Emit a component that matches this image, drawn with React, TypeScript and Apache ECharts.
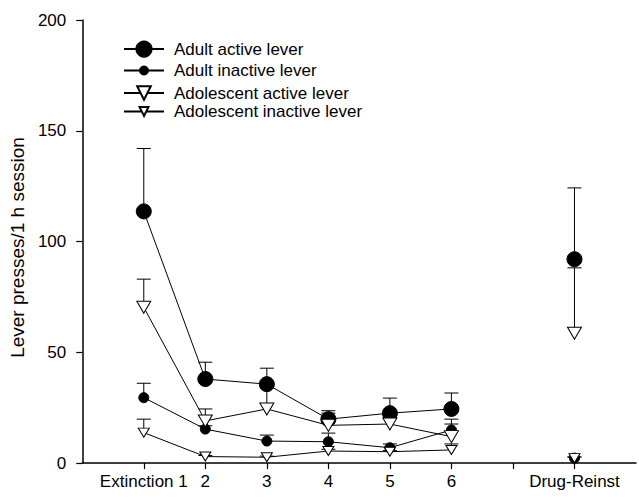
import React, { useEffect, useRef } from "react";
import * as echarts from "echarts";

// x positions: index 0 and 9 are padding, 7 is the gap
const categories = ["", "Extinction 1", "2", "3", "4", "5", "6", "", "Drug-Reinst", ""];
const yTicks = [0, 50, 100, 150, 200];

// values per session: Extinction 1..6, then Drug-Reinst
const adultActive = [113.6, 37.9, 35.6, 19.8, 22.5, 24.4, 92.0];
const adultActiveSem = [28.4, 7.6, 7.2, 3.8, 6.8, 7.2, 32.2];
const adultInactive = [29.5, 15.3, 9.9, 9.6, 6.9, 14.9, 2.2];
const adultInactiveSem = [6.5, 1.5, 2.7, 3.9, 1.7, 4.9, 0.5];
const adolActive = [70.3, 19.0, 24.4, 17.0, 17.6, 11.9, 58.6];
const adolActiveSem = [12.7, 5.4, 9.5, 5.5, 3.0, 5.7, 29.5];
const adolInactive = [13.7, 2.9, 2.6, 5.4, 5.1, 5.9, 2.2];
const adolInactiveSem = [6.1, 0.5, 0.5, 0.8, 0.5, 2.7, 0.5];

const seriesNames = [
  "Adult active lever",
  "Adult inactive lever",
  "Adolescent active lever",
  "Adolescent inactive lever",
];

const xIndex = [1, 2, 3, 4, 5, 6, 8];

function toLineData(vals: number[]) {
  const out: (number | string)[] = categories.map(() => "-");
  vals.forEach((v, i) => {
    out[xIndex[i]] = v;
  });
  return out;
}

function toErrData(vals: number[], sem: number[]) {
  return vals.map((v, i) => [xIndex[i], v, v + sem[i]]);
}

const FONT = "'Liberation Sans', Arial, Helvetica, sans-serif";

export default function App() {
  const ref = useRef<HTMLDivElement>(null);
  useEffect(() => {
    if (!ref.current) return;
    const chart = echarts.init(ref.current, undefined, { renderer: "svg" });

    const errSeries = (vals: number[], sem: number[]) => ({
      type: "custom",
      z: 1,
      silent: true,
      data: toErrData(vals, sem),
      renderItem: (params: any, api: any) => {
        const p0 = api.coord([api.value(0), api.value(1)]);
        const p1 = api.coord([api.value(0), api.value(2)]);
        const hw = 7;
        return {
          type: "group",
          children: [
            {
              type: "line",
              shape: { x1: p0[0], y1: p0[1], x2: p1[0], y2: p1[1] },
              style: { stroke: "#000", lineWidth: 1 },
            },
            {
              type: "line",
              shape: { x1: p1[0] - hw, y1: p1[1], x2: p1[0] + hw, y2: p1[1] },
              style: { stroke: "#000", lineWidth: 1 },
            },
          ],
        };
      },
    });

    const lineSeries = (
      name: string,
      vals: number[],
      symbol: string,
      size: any,
      fill: string,
      rotate: number
    ) => ({
      type: "line",
      name,
      z: 3,
      data: toLineData(vals),
      connectNulls: false,
      symbol,
      symbolSize: size,
      symbolRotate: rotate,
      showAllSymbol: true,
      lineStyle: { color: "#000", width: 1 },
      itemStyle: { color: fill, borderColor: "#000", borderWidth: 1, opacity: 1 },
      emphasis: { disabled: true },
    });

    const rows = [50, 70.5, 93, 111.5];
    const legendHeights = [19, 10, 17, 11];
    const legendRot = [0, 0, 180, 180];

    const option: any = {
      animation: false,
      backgroundColor: "#fff",
      textStyle: { fontFamily: FONT },
      grid: { left: 77, right: -6, top: 20, bottom: 36 },
      legend: seriesNames.map((n, i) => ({
        data: [n],
        left: 123,
        top: rows[i] - Math.max(legendHeights[i] / 2, 8.5),
        padding: 0,
        itemWidth: 40,
        itemHeight: legendHeights[i],
        iconRotate: legendRot[i],
        selectedMode: false,
        textStyle: {
          fontSize: 17,
          color: "#000",
          fontFamily: FONT,
          padding: [0, 0, 0, 5],
        },
      })),
      xAxis: {
        type: "category",
        data: categories,
        boundaryGap: false,
        axisLine: { lineStyle: { color: "#000", width: 1.5 } },
        axisTick: {
          length: 6,
          lineStyle: { color: "#000", width: 1.2 },
          interval: (idx: number) => idx >= 1 && idx <= 8,
        },
        axisLabel: {
          interval: 0,
          fontSize: 17,
          color: "#000",
          fontFamily: FONT,
          margin: 10,
        },
        splitLine: { show: false },
      },
      yAxis: {
        type: "value",
        min: yTicks[0],
        max: yTicks[yTicks.length - 1],
        interval: 50,
        name: "Lever presses/1 h session",
        nameLocation: "middle",
        nameGap: 43,
        nameTextStyle: { fontSize: 19, color: "#000", fontFamily: FONT, padding: [0, 12, 0, 0] },
        axisLine: { show: true, lineStyle: { color: "#000", width: 1.5 } },
        axisTick: { show: true, length: 6, lineStyle: { color: "#000", width: 1.2 } },
        axisLabel: { fontSize: 17, color: "#000", fontFamily: FONT, margin: 16 },
        splitLine: { show: false },
      },
      series: [
        errSeries(adultActive, adultActiveSem),
        errSeries(adultInactive, adultInactiveSem),
        errSeries(adolActive, adolActiveSem),
        errSeries(adolInactive, adolInactiveSem),
        lineSeries(seriesNames[0], adultActive, "circle", 15, "#000", 0),
        lineSeries(seriesNames[1], adultInactive, "circle", 10, "#000", 0),
        lineSeries(seriesNames[2], adolActive, "triangle", [14, 12], "#fff", 180),
        lineSeries(seriesNames[3], adolInactive, "triangle", [11, 9], "#fff", 180),
      ],
    };
    chart.setOption(option);
    return () => chart.dispose();
  }, []);

  return (
    <div
      ref={ref}
      style={{ position: "absolute", left: 0, top: 0, width: 639, height: 499 }}
    />
  );
}
